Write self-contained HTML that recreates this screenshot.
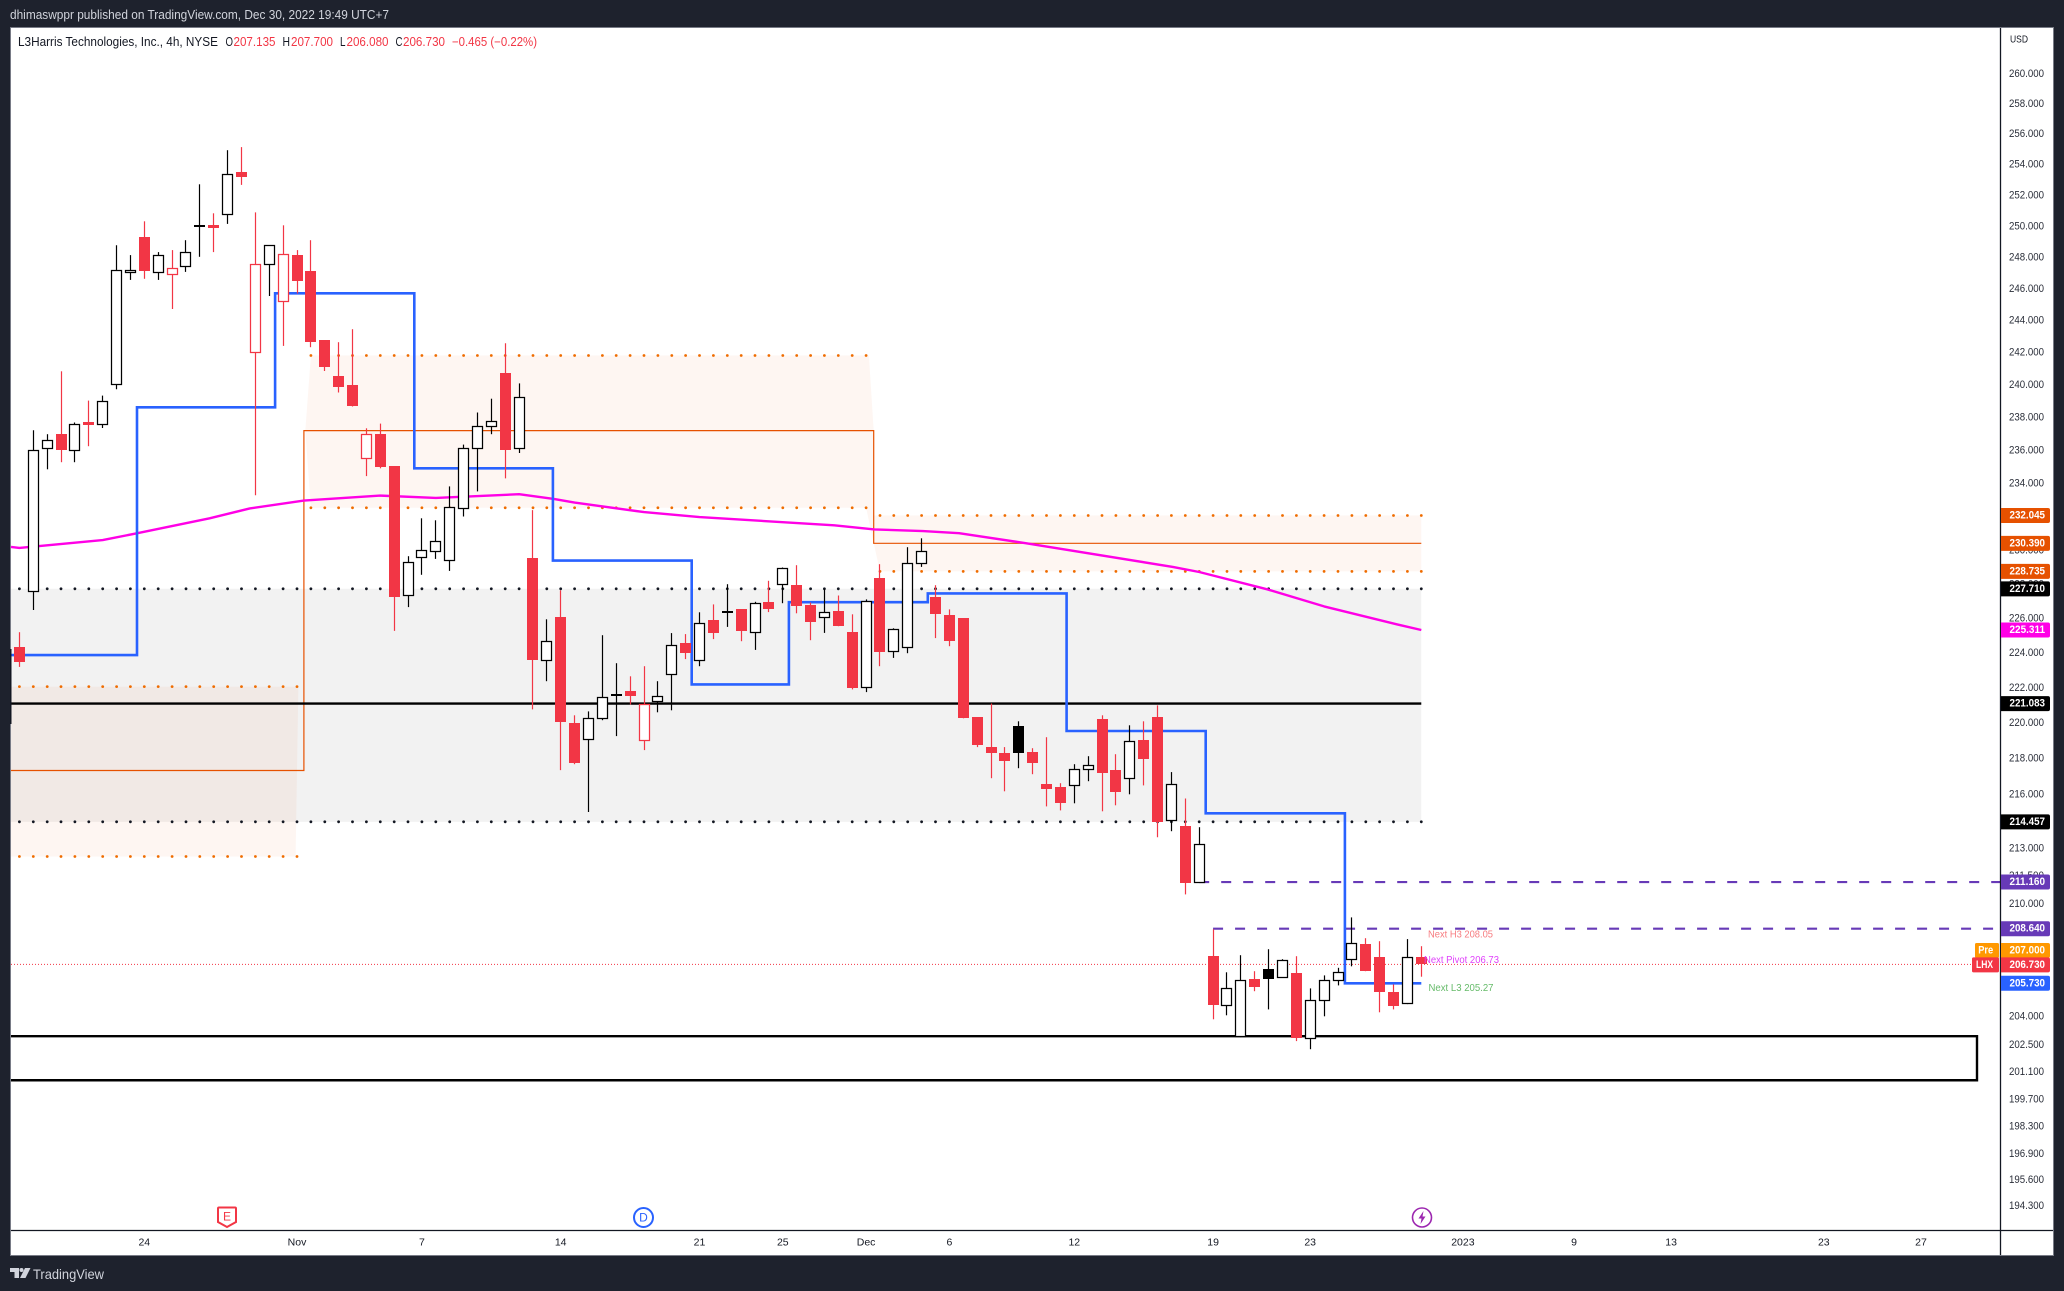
<!DOCTYPE html>
<html lang="en">
<head>
<meta charset="utf-8">
<title>LHX 4h chart</title>
<style>
html,body{margin:0;padding:0;background:#1e222d;}
svg{display:block;font-family:"Liberation Sans",sans-serif;}
</style>
</head>
<body>
<svg id="chart" xmlns="http://www.w3.org/2000/svg" width="2064" height="1291" viewBox="0 0 2064 1291">
  <rect x="0" y="0" width="2064" height="1291" fill="#1e222d"/>
  <rect x="10.5" y="27.5" width="2043" height="1228" fill="#ffffff" stroke="#787b86" stroke-width="1"/>
  <g id="pane"></g>
  <g id="candles"></g>
  <rect x="10" y="649" width="1.5" height="75" fill="#131722"/>
  <line x1="2000.5" y1="28" x2="2000.5" y2="1255" stroke="#131722" stroke-width="1.3"/>
  <line x1="11" y1="1230.5" x2="2053" y2="1230.5" stroke="#131722" stroke-width="1.3"/>
  <g id="yticks"></g>
  <g id="xticks"></g>
  <g id="badges"></g>

  <text x="10" y="15" dominant-baseline="central" font-size="12.5" fill="#d1d4dc" textLength="379" lengthAdjust="spacingAndGlyphs">dhimaswppr published on TradingView.com, Dec 30, 2022 19:49 UTC+7</text>
  <g font-size="12.5" dominant-baseline="central">
    <text x="18" y="42" dominant-baseline="central" fill="#131722" textLength="200" lengthAdjust="spacingAndGlyphs">L3Harris Technologies, Inc., 4h, NYSE</text>
    <text x="225.5" y="42" dominant-baseline="central" fill="#131722" textLength="7.5" lengthAdjust="spacingAndGlyphs">O</text>
    <text x="233.5" y="42" dominant-baseline="central" fill="#f23645" textLength="42" lengthAdjust="spacingAndGlyphs">207.135</text>
    <text x="282.5" y="42" dominant-baseline="central" fill="#131722" textLength="7.5" lengthAdjust="spacingAndGlyphs">H</text>
    <text x="291" y="42" dominant-baseline="central" fill="#f23645" textLength="42" lengthAdjust="spacingAndGlyphs">207.700</text>
    <text x="340" y="42" dominant-baseline="central" fill="#131722" textLength="5.5" lengthAdjust="spacingAndGlyphs">L</text>
    <text x="346.5" y="42" dominant-baseline="central" fill="#f23645" textLength="42" lengthAdjust="spacingAndGlyphs">206.080</text>
    <text x="395.5" y="42" dominant-baseline="central" fill="#131722" textLength="7" lengthAdjust="spacingAndGlyphs">C</text>
    <text x="403" y="42" dominant-baseline="central" fill="#f23645" textLength="42" lengthAdjust="spacingAndGlyphs">206.730</text>
    <text x="452" y="42" dominant-baseline="central" fill="#f23645" textLength="85" lengthAdjust="spacingAndGlyphs">−0.465 (−0.22%)</text>
  </g>
  <text x="2010" y="39.5" dominant-baseline="central" font-size="10.5" fill="#131722" textLength="18" lengthAdjust="spacingAndGlyphs">USD</text>

  <text x="1428" y="934.5" dominant-baseline="central" font-size="10.5" fill="#f77c80" textLength="65" lengthAdjust="spacingAndGlyphs">Next H3 208.05</text>
  <text x="1424" y="960" dominant-baseline="central" font-size="10.5" fill="#e040fb" textLength="75" lengthAdjust="spacingAndGlyphs">Next Pivot 206.73</text>
  <text x="1428.5" y="988" dominant-baseline="central" font-size="10.5" fill="#66bb6a" textLength="65" lengthAdjust="spacingAndGlyphs">Next L3 205.27</text>

  <g>
    <path d="M219 1207.5 H235 a1 1 0 0 1 1 1 V1222 L227 1227 L218 1222 V1208.5 a1 1 0 0 1 1 -1 Z" fill="#ffffff" stroke="#f23645" stroke-width="2"/>
    <text x="227" y="1216.5" text-anchor="middle" dominant-baseline="central" font-size="12" fill="#f23645">E</text>
  </g>
  <g>
    <circle cx="643.5" cy="1217.5" r="9.5" fill="#ffffff" stroke="#2962ff" stroke-width="2"/>
    <text x="643.5" y="1217.5" text-anchor="middle" dominant-baseline="central" font-size="12" fill="#2962ff">D</text>
  </g>
  <g>
    <circle cx="1422" cy="1217.5" r="9.5" fill="#ffffff" stroke="#9c27b0" stroke-width="1.6"/>
    <path d="M1423.5 1211 L1418.5 1218.5 H1421.5 L1420.5 1224 L1425.5 1216.5 H1422.5 Z" fill="#9c27b0"/>
  </g>

  <g>
    <polygon points="10,1268 19,1268 19,1278 14.5,1278 14.5,1272 10,1272" fill="#d1d4dc"/>
    <circle cx="21.5" cy="1270" r="2" fill="#d1d4dc"/>
    <polygon points="25,1268 30.5,1268 25.5,1278 20,1278" fill="#d1d4dc"/>
    <text x="33" y="1274" dominant-baseline="central" font-size="14" fill="#d1d4dc" textLength="71" lengthAdjust="spacingAndGlyphs">TradingView</text>
  </g>
</svg>

<script>
// ---- chart data (prices) ----
const opens = [224.32,227.54,236.08,236.95,235.93,237.67,237.51,239.96,246.99,249.28,246.99,246.85,247.38,250.04,250.04,250.70,253.49,241.96,247.50,245.14,248.13,247.10,242.75,240.51,239.95,235.47,236.95,235.00,227.28,229.54,229.89,229.35,232.45,236.08,237.39,240.69,236.08,229.51,223.53,226.05,219.97,219.03,220.21,221.65,221.78,218.97,221.16,222.72,224.55,223.53,225.88,226.44,226.51,225.14,226.91,227.93,227.91,226.74,226.01,226.40,225.18,221.97,228.33,224.05,224.28,229.18,227.21,226.16,225.99,220.30,218.62,218.28,219.80,218.34,216.54,216.37,216.44,217.34,220.19,217.33,216.84,219.01,220.30,214.51,214.21,211.11,207.17,204.52,202.90,205.94,206.47,206.01,206.26,202.81,204.78,205.86,206.97,207.81,207.11,205.29,204.63,207.135];
const highs = [225.18,237.19,236.95,240.82,237.67,239.01,239.32,248.76,248.13,250.30,248.32,248.45,249.08,252.69,250.81,254.92,255.12,250.87,248.75,250.04,248.45,249.08,242.75,242.63,243.44,237.31,237.60,235.00,229.63,231.88,231.76,233.79,236.32,238.28,239.13,242.57,240.07,232.37,225.93,227.62,220.42,220.64,225.01,223.39,222.64,223.22,222.36,225.13,225.07,226.34,226.80,227.98,226.51,226.95,228.18,228.96,229.10,226.91,227.68,227.32,226.22,227.09,229.16,225.41,230.16,230.69,227.92,226.51,225.99,220.30,221.09,218.62,220.08,218.56,219.18,216.60,217.66,218.11,220.42,218.22,219.85,220.08,220.98,217.22,215.75,214.16,208.61,206.31,207.22,206.37,207.54,207.01,207.17,205.46,206.15,206.55,209.25,208.13,207.97,205.67,208.08,207.70];
const lows = [223.18,226.47,234.82,235.25,235.25,236.22,237.33,239.71,246.55,246.62,246.55,244.71,247.06,248.02,248.32,250.13,252.65,233.26,245.53,242.40,245.68,242.32,240.84,239.51,238.65,234.41,234.88,225.26,226.64,228.53,229.47,228.76,231.99,233.49,236.95,234.27,235.81,220.75,222.36,217.33,217.66,215.00,220.14,219.24,221.03,218.45,220.59,220.70,223.63,223.22,224.78,225.49,224.66,224.16,226.35,226.87,226.28,224.72,225.14,225.53,221.89,221.74,223.22,223.70,223.97,229.00,224.84,224.37,220.25,218.62,216.88,216.15,217.44,217.10,215.31,215.09,215.48,216.71,215.04,215.37,215.98,216.48,213.61,213.94,210.49,211.11,203.83,204.04,202.90,205.31,204.35,206.01,202.69,202.27,203.99,205.62,206.63,206.37,204.20,204.35,204.63,206.08];
const closes = [223.47,236.02,236.58,235.97,237.60,237.49,238.99,247.15,247.21,247.10,248.11,247.33,248.30,249.92,249.85,253.33,253.16,247.53,248.75,248.17,246.47,242.63,241.07,239.82,238.65,236.99,234.94,227.22,229.31,229.97,230.50,232.57,236.14,237.47,237.78,235.97,239.24,223.57,224.65,220.02,217.72,220.29,221.47,221.55,221.49,221.07,221.53,224.47,223.97,225.74,225.13,226.30,225.24,226.90,226.51,228.96,226.68,225.76,226.38,225.53,221.95,227.01,224.03,225.34,229.20,229.91,226.22,224.66,220.25,218.73,218.28,217.83,218.28,217.72,216.26,215.48,217.37,217.59,217.16,216.09,218.94,217.94,214.43,216.58,211.09,213.21,204.56,205.50,205.93,205.52,205.94,206.94,202.84,204.86,205.93,206.32,207.85,206.37,205.25,204.51,207.15,206.73];

// moving average readings
const maIndex = [-0.6,0,6,8.5,13.7,16.6,20.5,26,30,36,38.5,40,45,49,58.7,61.6,65.1,67.7,72.5,83.1,85,89.9,94,99.5,101];
const maValues = [230.18,230.12,230.58,230.99,231.88,232.47,232.94,233.24,233.10,233.32,233.04,232.82,232.25,231.95,231.46,231.22,231.12,230.99,230.40,229.00,228.70,227.68,226.68,225.59,225.311];

// blue stepped line: value held until the next break
const stepBreaks = [-0.6,8.47,18.42,28.45,38.44,48.44,55.44,65.45,75.45,85.47,95.5,101];
const stepLevels = [223.86,238.60,245.70,234.88,229.37,222.18,226.93,227.44,219.53,214.93,205.73];

// pivot levels
const pivotUpper = 227.71;
const pivotMiddle = 221.083;
const pivotLower = 214.457;
const zoneStarts = [0,21,62];
const zoneEnds = [20,61,101];
const zoneTops = [222.05,241.80,232.045];
const zoneMids = [217.31,237.17,230.39];
const zoneBottoms = [212.55,232.51,228.735];
const zoneMidBreaks = [-0.6,20.5,61.55,101];

// demand box and forward levels
const boxTop = 202.95;
const boxBottom = 200.66;
const dashedLevels = [211.16,208.64];
const dashedStarts = [85,86];
const lastPrice = 206.73;

// axis labels
const yTickValues = [260,258,256,254,252,250,248,246,244,242,240,238,236,234,232,230,228,226,224,222,220,218,216,213,211.5,210,204,202.5,201.1,199.7,198.3,196.9,195.6,194.3];
const xTickIndex = [9,20,29,39,49,55,61,67,76,86,93,104,112,119,130,137];
const xTickLabels = ['24','Nov','7','14','21','25','Dec','6','12','19','23','2023','9','13','23','27'];

// right-hand price badges
const badgeValues = [232.045,230.39,228.735,227.71,225.311,221.083,214.457,211.16,208.64,205.73];
const badgeColors = ['#e65100','#e65100','#e65100','#000000','#ff00e6','#000000','#000000','#673ab7','#673ab7','#2962ff'];

// ---- axes ----
const PANE_LEFT = 11;
const AXIS_X = 2000.5;
function xAt(i){ return 19.4 + 13.88 * i; }
function yAt(p){ return 73.5 + 3886 * Math.log(260 / p); }

const NS = 'http://www.w3.org/2000/svg';
function make(tag, parent, attrs){
  const el = document.createElementNS(NS, tag);
  for (const k in attrs) el.setAttribute(k, attrs[k]);
  parent.appendChild(el);
  return el;
}
const pane = document.getElementById('pane');
const candles = document.getElementById('candles');
const yticks = document.getElementById('yticks');
const xticks = document.getElementById('xticks');
const badges = document.getElementById('badges');
const RED = '#f23645', BLACK = '#000000', ORANGE = '#e65100', GRAY = '#f2f2f2';

// gray pivot band
const band = make('rect', pane, {x:PANE_LEFT, y:yAt(pivotUpper), width:xAt(101)-PANE_LEFT, height:yAt(pivotLower)-yAt(pivotUpper), fill:GRAY});



// orange zones
zoneStarts.forEach(function(s, k){
  const t = yAt(zoneTops[k]), m = yAt(zoneMids[k]), b = yAt(zoneBottoms[k]), e = zoneEnds[k];
  let pts;
  if (k === 0) pts = [[PANE_LEFT,t],[xAt(e+0.1),t],[xAt(e-0.1),b],[PANE_LEFT,b]];
  else if (k === 1) pts = [[xAt(s),t],[xAt(e+0.2),t],[xAt(e+0.55),m],[xAt(e+0.55),yAt(zoneMids[2])],[xAt(e),b],[xAt(s),b],[xAt(s-0.4),m]];
  else pts = [[xAt(s-0.45),t],[xAt(e),t],[xAt(e),b],[xAt(s),b],[xAt(s-0.45),m]];
  const zone = make('polygon', pane, {points:pts.map(function(p){return p[0].toFixed(1)+','+p[1].toFixed(1);}).join(' '), fill:'rgba(230,81,0,0.05)'});
  
  
});

// demand box
const boxY1 = yAt(boxTop), boxY2 = yAt(boxBottom);
const box = make('path', pane, {d:'M'+PANE_LEFT+' '+boxY1+' H1977 V'+boxY2+' H'+PANE_LEFT, fill:'none', stroke:BLACK, 'stroke-width':2.4});



// middle orange stepped line
let midPath = '';
zoneMids.forEach(function(v, k){
  const y = yAt(v);
  const x1 = k === 0 ? PANE_LEFT : xAt(zoneMidBreaks[k]);
  const x2 = xAt(zoneMidBreaks[k+1]);
  midPath += (k === 0 ? 'M' : 'L') + x1.toFixed(1) + ' ' + y.toFixed(1) + ' L' + x2.toFixed(1) + ' ' + y.toFixed(1) + ' ';
});
const midLine = make('path', pane, {d:midPath, fill:'none', stroke:ORANGE, 'stroke-width':1.2});



// pivot solid line
const pivot = make('line', pane, {x1:PANE_LEFT, x2:xAt(101), y1:yAt(pivotMiddle), y2:yAt(pivotMiddle), stroke:BLACK, 'stroke-width':2.4});



// dotted levels, one dot per bar
function dots(value, from, to, color){
  for (let i = from; i <= to; i++){
    const c = make('circle', pane, {cx:xAt(i).toFixed(1), cy:yAt(value).toFixed(1), r:1.4, fill:color});
    
    
  }
}
dots(pivotUpper, 0, 101, '#131722');
dots(pivotLower, 0, 101, '#131722');
zoneStarts.forEach(function(s, k){
  dots(zoneTops[k], s, zoneEnds[k], '#ef6c00');
  dots(zoneBottoms[k], s, zoneEnds[k], '#ef6c00');
});

// purple dashed levels
dashedLevels.forEach(function(v, k){
  const y = yAt(v);
  const dash = make('line', pane, {x1:xAt(dashedStarts[k]), x2:AXIS_X, y1:y, y2:y, stroke:'#673ab7', 'stroke-width':2.2, 'stroke-dasharray':'10 12'});
  
  
});

// last price dotted line
const lp = make('line', pane, {x1:PANE_LEFT, x2:1972, y1:yAt(lastPrice), y2:yAt(lastPrice), stroke:RED, 'stroke-width':1, 'stroke-dasharray':'1 2'});



// moving average
const maPts = maIndex.map(function(ix, k){
  const x = ix < 0 ? PANE_LEFT : xAt(ix);
  return x.toFixed(1) + ',' + yAt(maValues[k]).toFixed(1);
}).join(' ');
const ma = make('polyline', pane, {points:maPts, fill:'none', stroke:'#ff00e6', 'stroke-width':2.4, 'stroke-linejoin':'round'});



// blue stepped line
let stepD = '';
stepLevels.forEach(function(v, k){
  const y = yAt(v).toFixed(1);
  const x1 = k === 0 ? PANE_LEFT : xAt(stepBreaks[k]);
  const x2 = xAt(stepBreaks[k+1]);
  stepD += (k === 0 ? 'M' : 'L') + x1.toFixed(1) + ' ' + y + ' L' + x2.toFixed(1) + ' ' + y + ' ';
});
const step = make('path', pane, {d:stepD, fill:'none', stroke:'#2962ff', 'stroke-width':2.6, 'stroke-linejoin':'miter'});



// candles
closes.forEach(function(c, i){
  const o = opens[i], h = highs[i], l = lows[i];
  const color = (i > 0 && c >= closes[i-1]) ? BLACK : RED;
  const hollow = c > o;
  const cx = Math.floor(xAt(i)) + 0.5;
  const top = Math.round(yAt(Math.max(o, c)));
  const bot = Math.round(yAt(Math.min(o, c)));
  const wick = make('line', candles, {x1:cx, x2:cx, y1:yAt(h).toFixed(1), y2:yAt(l).toFixed(1), stroke:color, 'stroke-width':1.2});
  
  
  let body;
  if (hollow){
    body = make('rect', candles, {x:cx-5, width:10, y:top+0.5, height:Math.max(bot-top-1, 0.5), fill:'#ffffff', stroke:color, 'stroke-width':1.25});
  } else {
    body = make('rect', candles, {x:cx-5.5, width:11, y:top, height:Math.max(bot-top, 2), fill:color});
  }
  
  
});

// price axis tick labels
yTickValues.forEach(function(v){
  const t = make('text', yticks, {x:2009, y:(yAt(v)+0.4).toFixed(1), 'dominant-baseline':'central', 'font-size':11, fill:'#2a2e39', textLength:35, lengthAdjust:'spacingAndGlyphs'});
  t.textContent = v.toFixed(3);
  
  
});

// time axis tick labels
xTickIndex.forEach(function(ix, k){
  const t = make('text', xticks, {x:xAt(ix).toFixed(1), y:1242.5, 'text-anchor':'middle', 'dominant-baseline':'central', 'font-size':10.5, fill:'#131722'});
  t.textContent = xTickLabels[k];
  
  
});

// price badges
function badge(y, color, label){
  const r = make('path', badges, {d:'M2001 '+(y-7.5)+' H2048 a2 2 0 0 1 2 2 V'+(y+5.5)+' a2 2 0 0 1 -2 2 H2001 Z', fill:color});
  
  
  const t = make('text', badges, {x:2009.5, y:y, 'dominant-baseline':'central', 'font-size':11, 'font-weight':'bold', fill:'#ffffff', textLength:35.5, lengthAdjust:'spacingAndGlyphs'});
  t.textContent = label;
  
  
}
badgeValues.forEach(function(v, k){
  badge(yAt(v), badgeColors[k], v.toFixed(3));
});
badge(950.5, '#ff9800', '207.000');
badge(yAt(lastPrice) + 0.5, RED, lastPrice.toFixed(3));

const tagPre = make('rect', badges, {x:1975, y:943, width:24, height:15, rx:1.5, fill:'#ff9800'});


const tagPreText = make('text', badges, {x:1985.7, y:950.5, 'text-anchor':'middle', 'dominant-baseline':'central', 'font-size':11, 'font-weight':'bold', fill:'#ffffff', textLength:15, lengthAdjust:'spacingAndGlyphs'});
tagPreText.textContent = 'Pre';


const tagSym = make('rect', badges, {x:1972, y:yAt(lastPrice)-7, width:27, height:15, rx:1.5, fill:RED});


const tagSymText = make('text', badges, {x:1984.5, y:yAt(lastPrice)+0.5, 'text-anchor':'middle', 'dominant-baseline':'central', 'font-size':11, 'font-weight':'bold', fill:'#ffffff', textLength:17, lengthAdjust:'spacingAndGlyphs'});
tagSymText.textContent = 'LHX';


</script>
</body>
</html>
